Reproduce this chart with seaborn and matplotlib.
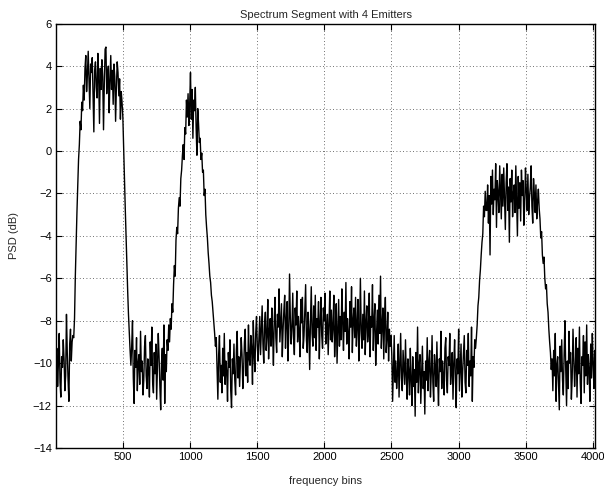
import numpy as np
import pandas as pd
import matplotlib
matplotlib.use("Agg")
import matplotlib.pyplot as plt
import seaborn as sns

# ---- data (PSD in dB, one value every 6 frequency bins) ----
BIN_STEP = 6
floor_a = [-10.4, -9.3, -11.1, -10.0, -8.6, -10.9, -11.6, -9.7, -10.2, -8.9, -9.8,
           -11.3, -10.6, -7.7, -9.5, -10.8, -11.8, -9.1, -8.4, -9.9, -9.0, -8.7]
rise_1 = [-8.8, -7.9, -5.9, -4.3, -2.9, -1.6, -0.4, 0.3, 1.4, 1.0, 2.3, 1.9]
plateau_1 = [3.1, 2.4, 3.9, 4.5, 2.8, 3.6, 4.7, 3.3, 2.0, 4.1,
             3.7, 4.4, 2.6, 0.9, 3.8, 4.2, 3.0, 2.5, 4.6, 3.4,
             1.3, 3.9, 2.9, 4.3, 3.5, 1.0, 3.2, 4.8, 4.9, 2.7,
             3.6, 4.0, 1.8, 3.3, 4.5, 2.9, 3.8, 2.2, 4.1, 3.5,
             1.4, 3.0, 4.2, 3.7, 2.6, 3.4, 1.5, 2.8, 2.3]
fall_1 = [1.6, 0.1, -1.4, -2.7, -4.0, -5.2, -6.6, -7.7, -8.6, -9.4, -10.1, -9.2]
floor_b = [-8.0, -10.7, -11.9, -9.4, -10.2, -8.8, -11.3, -10.0, -9.6, -11.0,
           -8.5, -10.4, -9.9, -11.5, -10.8, -9.2, -8.7, -10.6, -11.2, -9.8,
           -10.3, -11.6, -9.0, -10.1, -8.3, -10.9, -11.4, -9.5, -10.5, -9.1,
           -11.7, -10.2, -8.6, -9.7, -11.1, -12.2, -10.0, -9.3, -10.8, -8.2,
           -11.9, -9.6, -10.4, -8.9]
rise_2 = [-9.4, -8.2, -9.0, -7.9, -8.4, -7.2, -7.6, -6.3, -5.4, -5.9, -4.2, -3.6,
          -3.9, -2.7, -2.2, -2.6, -1.3, -0.9, -0.2, 0.3, -0.4, 1.1, 0.8, 2.4, 1.6]
peak_2 = [2.7, 1.2, 2.2, 3.7, 1.5, 2.9, 0.6, 2.4, 1.9, 3.0, 1.1, -0.2, 2.0, 1.3, 0.4]
fall_2 = [0.6, -0.4, -0.1, -1.0, -0.9, -2.1, -1.8, -3.0, -3.6, -4.1, -4.8, -5.3,
          -5.9, -6.2, -6.8, -7.1, -7.6, -8.1, -8.6, -9.2, -8.8]
floor_c = [-10.3, -11.7, -9.6, -8.7, -10.9, -10.1, -11.4, -9.3, -10.6, -8.6,
           -11.0, -9.9, -10.4, -11.8, -9.5, -10.2, -8.9, -11.3, -12.1, -9.8,
           -10.5, -9.1, -10.8, -11.5, -9.4, -8.5, -10.7, -9.7, -11.1, -10.0,
           -8.8, -9.6, -11.2, -10.3, -9.0, -8.4, -10.6, -9.5, -10.9, -8.2,
           -9.8, -10.1, -8.7, -9.3, -11.0, -8.0, -9.6, -10.4, -8.6, -7.8,
           -9.2, -9.9]
hump_3 = [-8.9, -7.8, -9.6, -8.4, -7.3, -9.1, -10.0, -8.2, -7.6, -9.4, -8.7, -7.0, -9.8, -8.5, -7.9,
          -9.2, -7.4, -8.6, -10.1, -8.0, -6.9, -8.8, -9.5, -7.7, -8.3, -6.5, -9.0, -8.1, -7.2, -9.7,
          -8.4, -7.5, -6.8, -9.3, -8.0, -7.1, -9.9, -8.6, -5.8, -7.9, -9.1, -8.3, -6.7, -8.8, -9.6,
          -7.4, -8.2, -6.6, -9.0, -7.8, -8.5, -9.7, -7.0, -8.1, -6.9, -9.3, -8.7, -7.5, -6.3, -8.9,
          -9.5, -7.6, -8.4, -10.3, -8.0, -6.4, -8.6, -9.2, -7.3, -8.8, -6.8, -9.4, -7.9, -8.3, -7.1,
          -9.8, -8.1, -6.9, -8.7, -9.3, -7.4, -8.0, -6.7, -9.1, -8.5, -7.7, -9.6, -8.2, -6.6, -8.9,
          -7.5, -9.0, -8.3, -6.8, -9.7, -8.6, -7.2, -10.0, -8.4, -7.0, -9.2, -7.8, -8.9, -6.5, -8.1,
          -9.4, -7.6, -8.5, -6.2, -9.1, -7.9, -8.7, -9.8, -7.1, -8.3, -6.4, -9.5, -8.0, -7.4, -8.8,
          -6.9, -9.2, -8.2, -7.0, -9.9, -8.6, -6.0, -8.4, -9.3, -7.7, -8.9, -6.6, -9.6, -8.1, -7.3,
          -9.0, -8.5, -6.7, -9.7, -7.8, -8.3, -6.3, -9.4, -8.0, -7.2, -10.1, -8.7, -7.5, -9.1, -6.8,
          -8.6, -5.9, -9.3, -8.2, -7.4, -9.8, -8.0, -6.9, -9.5, -8.8, -7.6, -9.9, -8.4, -9.2, -8.7]
floor_d = [-9.6, -11.8, -10.3, -8.7, -10.9, -9.9, -11.2, -10.5, -9.1, -11.6, -10.0, -8.6, -10.7, -11.3, -9.4,
           -10.2, -11.0, -8.9, -10.6, -11.7, -9.8, -10.4, -11.5, -9.3, -10.8, -12.0, -9.7, -11.1, -10.3, -12.5,
           -9.5, -10.9, -8.3, -11.4, -10.1, -9.6, -11.9, -10.6, -9.2, -11.2, -10.4, -12.4, -9.9, -10.8, -8.8,
           -11.3, -10.0, -9.4, -11.6, -10.5, -8.7, -10.9, -11.8, -9.6, -10.2, -11.1, -9.0, -10.7, -12.0, -9.8,
           -10.4, -8.5, -11.2, -9.9, -10.6, -11.5, -9.3, -8.8, -10.8, -11.4, -9.7, -10.1, -8.6, -11.0, -10.3,
           -9.5, -11.7, -10.0, -8.9, -10.7, -12.1, -9.8, -10.5, -8.4, -11.3, -10.2, -9.1, -11.6, -10.4, -9.6,
           -8.7, -10.9, -11.4, -9.4, -10.1, -8.6, -11.1, -9.9, -10.6, -8.3, -11.8, -9.7, -10.2, -8.9, -9.3]
rise_4 = [-8.8, -8.2, -7.3, -6.9, -6.1, -5.6, -4.9, -4.3, -3.9, -2.6, -3.1, -1.9, -2.8]
plateau_4 = [-2.8, -1.6, -3.4, -2.1, -4.9, -1.2, -2.5, -0.9, -3.0, -1.8, -2.3, -0.6, -3.6, -1.4,
             -2.0, -2.9, -0.7, -1.9, -3.2, -1.1, -2.6, -0.8, -2.2, -3.7, -1.5, -0.6, -2.8, -1.7,
             -4.3, -1.3, -2.4, -0.9, -3.1, -2.0, -1.6, -2.9, -0.7, -2.3, -4.0, -1.2, -2.7, -1.5,
             -3.3, -0.9, -2.1, -1.4, -3.5, -2.5, -0.8, -1.9, -2.8, -1.1, -3.0, -2.2, -1.7, -0.7,
             -2.6, -3.4, -1.3, -2.0, -2.9, -1.6, -3.2, -2.4, -1.8, -2.7]
fall_4 = [-3.2, -4.1, -3.8, -4.9, -5.3, -5.0, -6.0, -6.5, -6.3, -7.2, -7.6, -8.4,
          -9.0, -9.5, -10.3, -9.8]
floor_e = [-11.3, -9.4, -10.6, -8.6, -11.8, -10.1, -9.7, -11.0, -12.2, -9.2,
           -10.4, -8.9, -10.8, -11.5, -9.6, -8.0, -10.3, -12.0, -9.9, -11.2,
           -8.5, -10.0, -9.5, -11.7, -10.7, -8.4, -9.8, -11.1, -10.2, -8.8,
           -11.6, -9.3, -10.5, -8.3, -10.9, -11.9, -9.7, -10.1, -8.7, -11.4,
           -9.0, -10.6, -8.2, -11.0, -9.6, -10.3, -11.8, -9.1, -10.7, -8.6,
           -10.0, -11.2, -9.4, -10.5]

x_ticks = [500, 1000, 1500, 2000, 2500, 3000, 3500, 4000]
y_ticks = [-14, -12, -10, -8, -6, -4, -2, 0, 2, 4, 6]

segments = [floor_a, rise_1, plateau_1, fall_1, floor_b, rise_2, peak_2, fall_2,
            floor_c, hump_3, floor_d, rise_4, plateau_4, fall_4, floor_e]
psd = np.concatenate([np.asarray(s, dtype=float) for s in segments])
bins = 1 + BIN_STEP * np.arange(len(psd))
df = pd.DataFrame({"bin": bins, "psd": psd})

# ---- figure ----
sns.set_style("ticks")
plt.rcParams["font.family"] = ["Liberation Sans", "DejaVu Sans"]
plt.rcParams["axes.unicode_minus"] = True

fig = plt.figure(figsize=(6.04, 4.95), dpi=100)
ax = fig.add_axes([56 / 604, 1 - 448 / 495, (595 - 56) / 604, (448 - 23.7) / 495])

sns.lineplot(data=df, x="bin", y="psd", color="black", linewidth=1.0,
             estimator=None, sort=False, ax=ax)

ax.set_xlim(1, 4017)
ax.set_ylim(-14, 6)
ax.set_xticks(x_ticks)
ax.set_yticks(y_ticks)
ax.set_xticklabels([str(t) for t in x_ticks])
ax.set_yticklabels([str(t).replace("-", "\u2212") for t in y_ticks])

ax.grid(True, linestyle=(0, (1, 3)), color="black", linewidth=0.6, alpha=0.75)
ax.tick_params(direction="in", length=4, width=0.8, top=True, right=True,
               labelsize=8, colors="black", pad=3)
for sp in ax.spines.values():
    sp.set_visible(True)
    sp.set_color("black")
    sp.set_linewidth(1.0)

ax.set_title("Spectrum Segment with 4 Emitters", fontsize=8, pad=4)
ax.set_xlabel("frequency bins", fontsize=8, labelpad=10)
ax.set_ylabel("PSD (dB)", fontsize=8, labelpad=10)

fig.savefig("out.png", dpi=100)
